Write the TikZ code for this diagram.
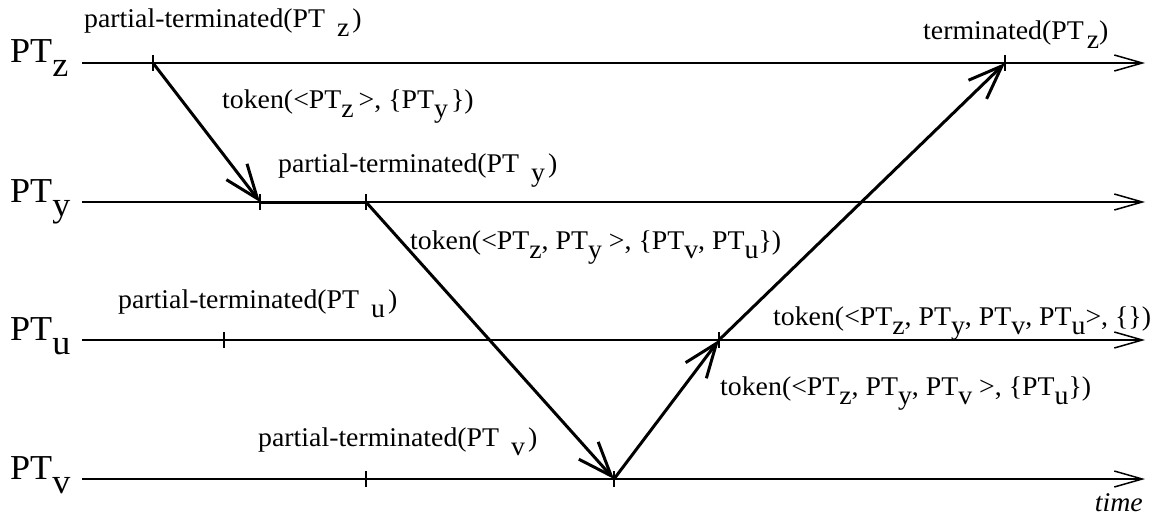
\documentclass[tikz,border=0pt]{standalone}
\usepackage{fontspec}
\setmainfont{Liberation Serif}[FakeStretch=1.03]
\usetikzlibrary{arrows.meta}
\newcommand\lo[1]{\raisebox{-9pt}{#1}}
\newcommand\plo[1]{\hspace{12pt}\raisebox{-9pt}{#1}\hspace{3pt}}
\newcommand\blo[1]{\raisebox{-14pt}{#1}}
\begin{document}
\begin{tikzpicture}[x=1pt,y=-1pt,
  timeline/.style={line width=1.5pt,-{Straight Barb[length=28pt,width=16pt]}},
  msg/.style={line width=3pt,-{Straight Barb[length=34pt,width=26pt]}},
  thickseg/.style={line width=3pt},
  tickmark/.style={line width=1.5pt},
  lbl/.style={anchor=base west,inner sep=0pt,font=\fontsize{27}{27}\selectfont},
  big/.style={anchor=base west,inner sep=0pt,font=\fontsize{35}{35}\selectfont}]
\useasboundingbox (0,0) rectangle (1171,519);
% timeline ends
\coordinate (zs) at (82,63);  \coordinate (ze) at (1145,63);
\coordinate (ys) at (82,202); \coordinate (ye) at (1145,202);
\coordinate (us) at (82,340); \coordinate (ue) at (1145,340);
\coordinate (vs) at (82,479); \coordinate (ve) at (1145,479);
% events
\coordinate (z1) at (153,63);
\coordinate (z2) at (1005,63);
\coordinate (y1) at (260,202);
\coordinate (y2) at (366,202);
\coordinate (u1) at (224,340);
\coordinate (u2) at (719,340);
\coordinate (v1) at (366,479);
\coordinate (v2) at (614,479);
% process labels
\node[big] (lz) at (10,63) {PT\blo{z}};
\node[big] (ly) at (10,202) {PT\blo{y}};
\node[big] (lu) at (10,340) {PT\blo{u}};
\node[big] (lv) at (10,479) {PT\blo{v}};
% timelines
\draw[timeline] (zs) -- (ze);
\draw[timeline] (ys) -- (ye);
\draw[timeline] (us) -- (ue);
\draw[timeline] (vs) -- (ve);
% ticks
\foreach \p in {z1,z2,y1,y2,u1,u2,v1,v2}
  \draw[tickmark] (\p) ++(0,-8) -- ++(0,16);
% messages
\draw[thickseg] (y1) -- (y2);
\draw[msg] (z1) -- (y1);
\draw[msg] (y2) -- (v2);
\draw[msg] (v2) -- (u2);
\draw[msg] (u2) -- (z2);
% event labels
\node[lbl] (t1) at (84,28) {partial-terminated(PT\plo{z})};
\node[lbl] (t2) at (923,40) {terminated(PT\hspace{3pt}\lo{z})};
\node[lbl] (t3) at (222,109) {token(<PT\lo{z}\hspace{5pt}>, \{PT\lo{y}\hspace{3pt}\})};
\node[lbl] (t4) at (278,172) {partial-terminated(PT\plo{y})};
\node[lbl] (t5) at (410,249) {token(<PT\lo{z}, PT\lo{y} >, \{PT\lo{v}, PT\lo{u}\})};
\node[lbl] (t6) at (118,308) {partial-terminated(PT\plo{u})};
\node[lbl] (t7) at (773,325) {token(<PT\lo{z}, PT\lo{y}, PT\lo{v}, PT\lo{u}>, \{\})};
\node[lbl] (t8) at (720,395) {token(<PT\lo{z}, PT\lo{y}, PT\lo{v} >, \{PT\lo{u}\})};
\node[lbl] (t9) at (258,446) {partial-terminated(PT\plo{v})};
\node[lbl,anchor=base east,font=\fontsize{27}{27}\selectfont\itshape] (tm) at (1143,511) {time};
\end{tikzpicture}
\end{document}
